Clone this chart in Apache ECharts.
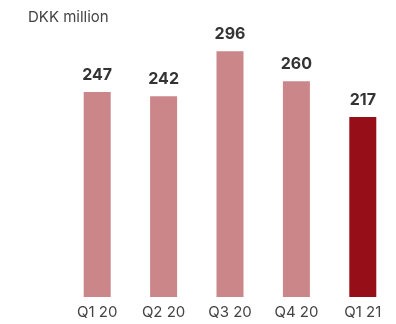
<!DOCTYPE html>
<html>
<head>
<meta charset="utf-8">
<script src="https://cdn.jsdelivr.net/npm/echarts@6/dist/echarts.min.js"></script>
<style>
  html, body { margin: 0; padding: 0; background: #fff; }
  #chart { width: 396px; height: 324px; }
</style>
</head>
<body>
<div id="chart"></div>
<script>
// Quarterly figures, DKK million
const quarters = ['Q1 20', 'Q2 20', 'Q3 20', 'Q4 20', 'Q1 21'];
const values = [247, 242, 296, 260, 217];
const pastColor = '#CB868A';
const currentColor = '#960E18';

const chart = echarts.init(document.getElementById('chart'));
chart.setOption({
  animation: false,
  textStyle: { fontFamily: 'Inter, "Open Sans", sans-serif' },
  title: {
    text: 'DKK million',
    left: 23,
    top: 5,
    textStyle: { fontSize: 15, fontWeight: 'normal', color: '#444' }
  },
  grid: { left: 64, top: 48, width: 336, height: 249, containLabel: false },
  xAxis: {
    type: 'category',
    data: quarters,
    axisLine: { show: false },
    axisTick: { show: false },
    axisLabel: { color: '#444', fontSize: 15, margin: 8 }
  },
  yAxis: {
    type: 'value',
    min: 0,
    max: 300,
    show: false
  },
  series: [{
    type: 'bar',
    barWidth: 27,
    data: values.map((v, i) => ({
      value: v,
      itemStyle: { color: i === values.length - 1 ? currentColor : pastColor }
    })),
    label: {
      show: true,
      position: 'top',
      distance: 9,
      color: '#333',
      fontSize: 16,
      fontWeight: 'bold'
    }
  }]
});
</script>
</body>
</html>
